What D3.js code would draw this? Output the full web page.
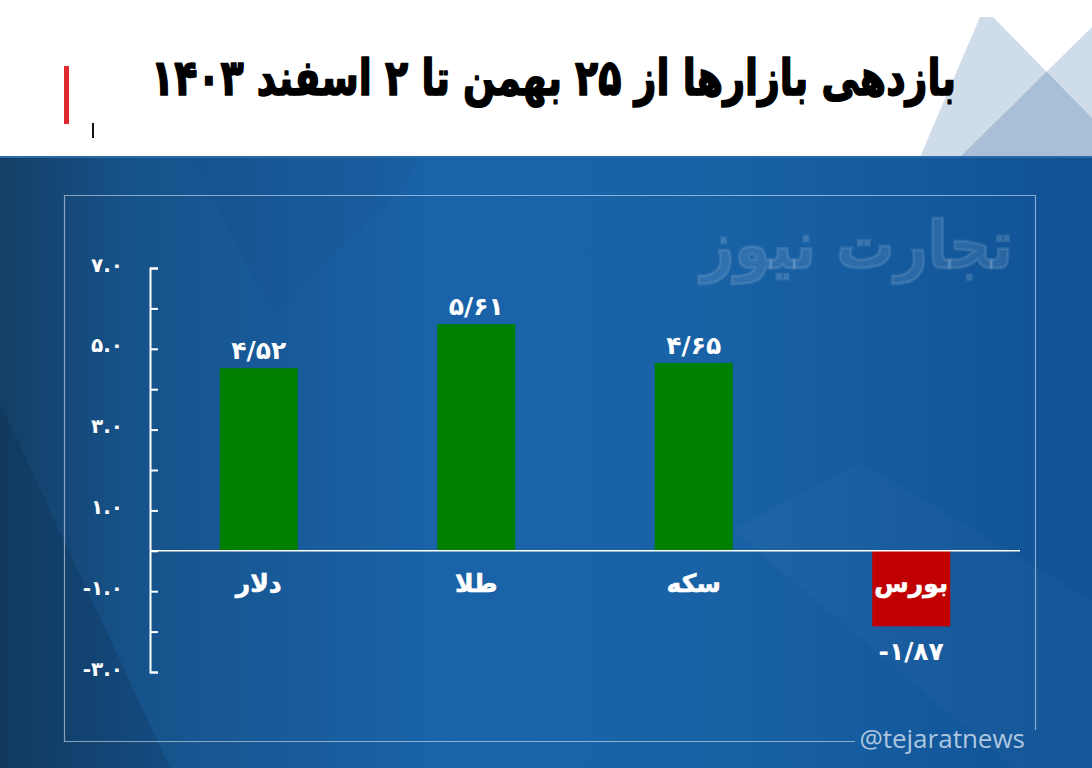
<!DOCTYPE html>
<html>
<head>
<meta charset="utf-8">
<script src="https://cdn.jsdelivr.net/npm/d3@7/dist/d3.min.js"></script>
<style>
html,body{margin:0;padding:0;background:#fff;}
svg{display:block;}
</style>
</head>
<body>
<svg id="chart" width="1092" height="768"></svg>
<script>
// ---- data ----
const title = "بازدهی بازارها از ۲۵ بهمن تا ۲ اسفند ۱۴۰۳";
const categories = ["دلار", "طلا", "سکه", "بورس"];
const values = [4.52, 5.61, 4.65, -1.87];
const yTicks = [-3, -2, -1, 0, 1, 2, 3, 4, 5, 6, 7];
const yTickLabels = {"-3": "-۳.۰", "-1": "-۱.۰", "1": "۱.۰", "3": "۳.۰", "5": "۵.۰", "7": "۷.۰"};
const watermark = "تجارت نیوز";
const handle = "@tejaratnews";

const fa = s => s.replace(/[0-9]/g, d => "۰۱۲۳۴۵۶۷۸۹"[+d]);
const fmtVal = v => fa(v.toFixed(2).replace(".", "/"));

const svg = d3.select("#chart");
const W = 1092, H = 768;
const defs = svg.append("defs");

// background gradient
const g1 = defs.append("linearGradient").attr("id", "bg").attr("x1", 0).attr("x2", 1).attr("y1", 0).attr("y2", 0);
[[0, "#143f66"], [0.12, "#16528a"], [0.4, "#1a63a9"], [0.65, "#1962a6"], [1, "#0f5295"]].forEach(([o, c]) =>
  g1.append("stop").attr("offset", o).attr("stop-color", c));

svg.append("rect").attr("width", W).attr("height", H).attr("fill", "#fff");
svg.append("rect").attr("x", 0).attr("y", 157).attr("width", W).attr("height", H - 157).attr("fill", "url(#bg)");

// background facets
const facets = [
  {pts: [[0, 403], [0, 768], [170, 768]], fill: "#0a2440", op: 0.2},
  {pts: [[190, 157], [273, 313], [400, 190], [420, 157]], fill: "#0b3a6e", op: 0.07},
  {pts: [[860, 462], [733, 530], [1013, 768], [1092, 768], [1092, 600]], fill: "#ffffff", op: 0.025}
];
facets.forEach(f => svg.append("polygon").attr("points", f.pts.map(p => p.join(",")).join(" "))
  .attr("fill", f.fill).attr("opacity", f.op));

// header triangles
const hdr = [
  [[980, 17], [993, 17], [1092, 118], [1092, 157], [920, 157]],
  [[1092, 27], [1092, 157], [960, 157]]
];
hdr.forEach(p => svg.append("polygon").attr("points", p.map(q => q.join(",")).join(" "))
  .attr("fill", "rgb(0,68,138)").attr("fill-opacity", 0.19));
svg.append("rect").attr("x", 0).attr("y", 156).attr("width", W).attr("height", 2).attr("fill", "#2a6aa6");

// red marker and small line
svg.append("rect").attr("x", 64).attr("y", 66).attr("width", 5).attr("height", 58).attr("fill", "#e0282f");
svg.append("rect").attr("x", 92).attr("y", 123).attr("width", 2).attr("height", 15).attr("fill", "#111");

// title
const tt = svg.append("text").attr("x", 0).attr("y", 0)
  .attr("text-anchor", "middle").attr("direction", "rtl")
  .style("font-family", "'DejaVu Sans', sans-serif").style("font-weight", "bold")
  .style("font-size", "46px").attr("fill", "#000")
  .attr("stroke", "#000").attr("stroke-width", 1.6).attr("stroke-linejoin", "round").text(title);
const tl = tt.node().getComputedTextLength();
tt.attr("transform", `translate(553.5,95) scale(${805 / tl},1.08)`);

// frame
const fr = svg.append("g").attr("stroke", "rgba(255,255,255,0.5)").attr("stroke-width", 1.2).attr("fill", "none");
fr.append("path").attr("d", "M855,741.5 H64.5 V195.5 H1035.5 V730");

// watermark
const wm = svg.append("text").attr("x", 0).attr("y", 0).attr("text-anchor", "middle").attr("direction", "rtl")
  .style("font-family", "'DejaVu Sans', sans-serif").style("font-weight", "bold").style("font-size", "66px")
  .attr("fill", "#ffffff").attr("fill-opacity", 0.1)
  .attr("stroke", "#ffffff").attr("stroke-opacity", 0.1).attr("stroke-width", 3).text(watermark);
const wl = wm.node().getComputedTextLength();
wm.attr("transform", `translate(857,268) scale(${312 / wl},1)`);

// handle
svg.append("text").attr("x", 1025).attr("y", 748).attr("text-anchor", "end")
  .style("font-family", "'Open Sans', sans-serif").style("font-size", "26px")
  .attr("fill", "#adc6df").text(handle);

// scales
const x = d3.scaleBand().domain(categories).range([150, 1020]).padding(0);
const y = d3.scaleLinear().domain([-3, 7]).range([672, 268]);
const barW = 78;

// axis
const axis = d3.axisLeft(y).tickValues(yTicks).tickSizeInner(-8).tickSizeOuter(-8).tickPadding(27)
  .tickFormat(d => yTickLabels[d] || "");
const ag = svg.append("g").attr("transform", "translate(150,0)").call(axis);
ag.selectAll("path,line").attr("stroke", "#fff").attr("stroke-width", 2);
ag.selectAll("text").attr("fill", "#fff").attr("direction", "ltr")
  .style("font-family", "'DejaVu Sans', sans-serif").style("font-weight", "bold").style("font-size", "20px")
  .attr("dy", "0.15em");

// bars
svg.append("g").selectAll("rect").data(values).join("rect")
  .attr("x", (d, i) => x(categories[i]) + x.bandwidth() / 2 - barW / 2)
  .attr("width", barW)
  .attr("y", d => d >= 0 ? y(d) : y(0))
  .attr("height", d => Math.abs(y(d) - y(0)))
  .attr("fill", d => d >= 0 ? "#007f00" : "#c00000");

// zero line
svg.append("line").attr("x1", 150).attr("x2", 1020).attr("y1", y(0)).attr("y2", y(0))
  .attr("stroke", "#fff").attr("stroke-width", 1.5);

// category labels
svg.append("g").selectAll("text").data(categories).join("text")
  .attr("x", d => x(d) + x.bandwidth() / 2).attr("y", 592)
  .attr("text-anchor", "middle").attr("direction", "rtl")
  .style("font-family", "'DejaVu Sans', sans-serif").style("font-weight", "bold").style("font-size", "25px")
  .attr("fill", "#fff").attr("stroke", "#fff").attr("stroke-width", 0.6).text(d => d);

// value labels
svg.append("g").selectAll("text").data(values).join("text")
  .attr("x", (d, i) => x(categories[i]) + x.bandwidth() / 2)
  .attr("y", d => d >= 0 ? y(d) - 9 : y(d) + 34)
  .attr("text-anchor", "middle").attr("direction", "ltr")
  .style("font-family", "'DejaVu Sans', sans-serif").style("font-weight", "bold").style("font-size", "25px")
  .attr("fill", "#fff").text(d => fmtVal(d));
</script>
</body>
</html>
